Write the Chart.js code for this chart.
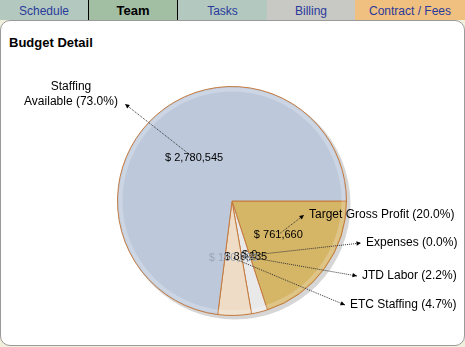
<!DOCTYPE html>
<html>
<head>
<meta charset="utf-8">
<script src="https://cdn.jsdelivr.net/npm/chart.js@4/dist/chart.umd.min.js"></script>
<style>
  html, body { margin: 0; padding: 0; }
  body { width: 465px; height: 347px; background: #f0f0dc; position: relative; overflow: hidden;
         font-family: "Liberation Sans", Arial, sans-serif; }
  .tabs { position: absolute; left: 0; top: 0; width: 465px; height: 20px; display: flex; }
  .tab { height: 20px; line-height: 22px; text-align: center; font-size: 12px; color: #2a3a9a; box-sizing: border-box; }
  .tab.on { background: #a3bfa3; color: #000; font-weight: bold; font-size: 13px; border-left: 1px solid #000; border-right: 1px solid #000; }
  .panel { position: absolute; left: 0; top: 20px; width: 463px; height: 324px; background: #fff;
           border: 1px solid #9a9a9a; border-radius: 10px; }
  .title { position: absolute; left: 9px; top: 35px; font-weight: bold; font-size: 13px; color: #000; }
  .wrap { position: absolute; left: 0; top: 0; width: 465px; height: 347px; }
</style>
</head>
<body>
<div class="tabs">
  <div class="tab" style="width:88px;background:#b3c9c0">Schedule</div>
  <div class="tab on" style="width:90px">Team</div>
  <div class="tab" style="width:89px;background:#b3c9c0">Tasks</div>
  <div class="tab" style="width:88px;background:#c8c8c4">Billing</div>
  <div class="tab" style="width:110px;background:#f0c080">Contract / Fees</div>
</div>
<div class="panel"></div>
<div class="title">Budget Detail</div>
<div class="wrap"><canvas id="chart" width="465" height="347"></canvas></div>
<script>
const categories = ['Target Gross Profit', 'Expenses', 'JTD Labor', 'ETC Staffing', 'Staffing Available'];
const amounts = [761660, 0, 86235, 180060, 2780545];
const percents = [20.0, 0.0, 2.2, 4.7, 73.0];
const sliceColors = ['#d5b566', '#e2ddd0', '#e9e9e9', '#eedcc6', '#bdc9db'];

// where each callout label sits, relative to the pie centre
const calloutSpots = [
  { dx: 72, dy: 14, align: 'left' },
  { dx: 129, dy: 42, align: 'left' },
  { dx: 125, dy: 75, align: 'left' },
  { dx: 113, dy: 104, align: 'left' },
  { dx: -107, dy: -97, align: 'right' }
];

function money(v) {
  return '$ ' + v.toLocaleString('en-US');
}

const pieDecor = {
  id: 'pieDecor',
  beforeDatasetsDraw(chart) {
    const arc = chart.getDatasetMeta(0).data[0];
    const ctx = chart.ctx;
    ctx.save();
    ctx.fillStyle = 'rgba(0,0,0,0.16)';
    ctx.beginPath();
    ctx.arc(arc.x + 3, arc.y + 3, arc.outerRadius + 1, 0, Math.PI * 2);
    ctx.fill();
    ctx.restore();
  },
  afterDatasetsDraw(chart) {
    const meta = chart.getDatasetMeta(0);
    const ctx = chart.ctx;
    const cx = meta.data[0].x, cy = meta.data[0].y, r = meta.data[0].outerRadius;
    ctx.save();
    // soft light rim
    ctx.strokeStyle = 'rgba(255,255,255,0.22)';
    ctx.lineWidth = 4;
    ctx.beginPath();
    ctx.arc(cx, cy, r - 3, 0, Math.PI * 2);
    ctx.stroke();

    ctx.font = '11px "Liberation Sans", Arial, sans-serif';
    ctx.textBaseline = 'middle';
    ctx.textAlign = 'center';
    // value labels inside the slices
    meta.data.forEach((el, i) => {
      const p = el.tooltipPosition();
      ctx.fillStyle = i === 3 ? '#9aa6b8' : '#000';
      ctx.fillText(money(amounts[i]), p.x, p.y);
    });

    // callouts
    ctx.font = '12px "Liberation Sans", Arial, sans-serif';
    meta.data.forEach((el, i) => {
      const p = el.tooltipPosition();
      const s = calloutSpots[i];
      const tx = cx + s.dx, ty = cy + s.dy;
      ctx.strokeStyle = '#333';
      ctx.lineWidth = 1;
      ctx.setLineDash([1, 1]);
      ctx.beginPath();
      ctx.moveTo(p.x, p.y);
      ctx.lineTo(tx, ty);
      ctx.stroke();
      ctx.setLineDash([]);
      const ang = Math.atan2(ty - p.y, tx - p.x);
      ctx.fillStyle = '#000';
      ctx.beginPath();
      ctx.moveTo(tx, ty);
      ctx.lineTo(tx - 5 * Math.cos(ang - 0.45), ty - 5 * Math.sin(ang - 0.45));
      ctx.lineTo(tx - 5 * Math.cos(ang + 0.45), ty - 5 * Math.sin(ang + 0.45));
      ctx.closePath();
      ctx.fill();
      const txt = categories[i] + ' (' + percents[i].toFixed(1) + '%)';
      if (s.align === 'left') {
        ctx.textAlign = 'left';
        ctx.fillText(txt, tx + 5, ty);
      } else {
        ctx.textAlign = 'center';
        ctx.fillText('Staffing', tx - 54, ty - 17);
        ctx.fillText('Available (' + percents[i].toFixed(1) + '%)', tx - 54, ty - 2);
      }
    });
    ctx.restore();
  }
};

new Chart(document.getElementById('chart'), {
  type: 'pie',
  data: {
    labels: categories,
    datasets: [{
      data: amounts,
      backgroundColor: sliceColors,
      borderColor: '#c47a3e',
      borderWidth: 1
    }]
  },
  options: {
    responsive: false,
    animation: false,
    rotation: 90,
    layout: { padding: { left: 117, right: 118, top: 86, bottom: 31 } },
    plugins: {
      legend: { display: false },
      tooltip: { enabled: false }
    }
  },
  plugins: [pieDecor]
});
</script>
</body>
</html>
